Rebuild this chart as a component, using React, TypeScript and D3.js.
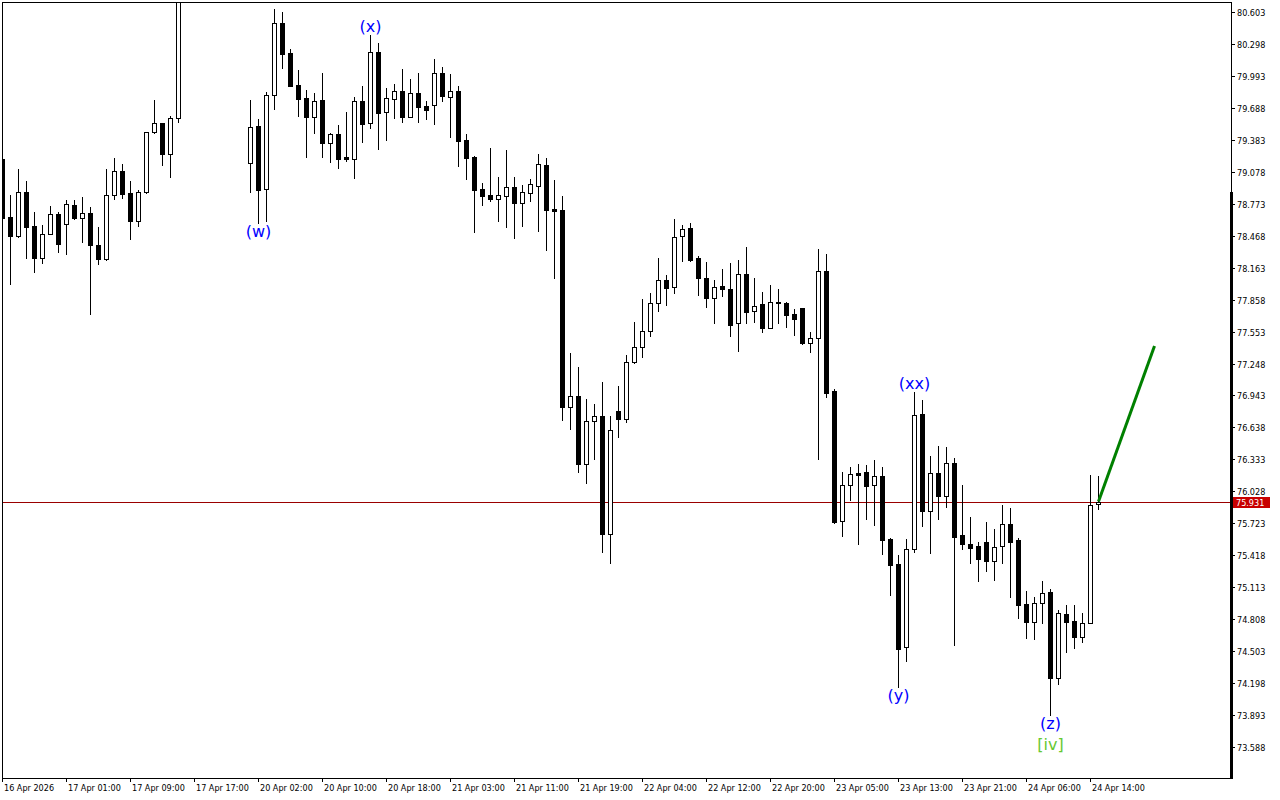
import * as d3 from 'd3';

// H1 candles, 16 Apr 17:00 .. 24 Apr 15:00 (bars 23-30 run above the visible range)
const opens = [
  79.200, 78.647, 78.465, 78.885, 78.560, 78.255, 78.484, 78.675, 78.580, 78.761,
  78.637, 78.684, 78.379, 78.245, 78.856, 79.085, 78.875, 78.608, 78.885, 79.458,
  79.543, 79.248, 79.592, 80.920, 81.200, 81.400, 81.300, 81.100, 81.250, 81.450,
  81.350, 79.161, 79.515, 78.913, 79.811, 80.498, 80.211, 79.906, 79.782, 79.601,
  79.763, 79.353, 79.439, 79.219, 79.200, 79.754, 79.543, 80.221, 79.649, 79.773,
  79.849, 79.601, 79.830, 79.706, 79.715, 80.021, 79.792, 79.849, 79.381, 79.219,
  78.913, 78.856, 78.818, 78.847, 78.933, 78.780, 78.875, 78.942, 79.142, 78.723,
  78.713, 76.833, 76.938, 76.289, 76.699, 76.747, 75.621, 76.795, 76.719, 77.263,
  77.406, 77.558, 77.825, 78.045, 77.978, 78.465, 78.541, 78.255, 78.064, 77.873,
  77.988, 77.959, 77.635, 78.102, 77.749, 77.816, 77.587, 77.835, 77.825, 77.721,
  77.778, 77.444, 77.492, 78.131, 76.986, 75.745, 76.089, 76.203, 76.213, 76.089,
  76.175, 75.573, 75.334, 74.543, 75.478, 76.766, 75.840, 76.203, 75.984, 76.299,
  75.611, 75.526, 75.507, 75.545, 75.363, 75.507, 75.717, 75.564, 74.953, 74.781,
  74.962, 75.068, 74.247, 74.857, 74.791, 74.638, 74.772, 75.907,
];
const highs = [
  79.267, 78.856, 79.105, 78.989, 78.694, 78.570, 78.751, 78.694, 78.809, 78.809,
  78.838, 78.742, 78.551, 79.105, 79.209, 79.152, 78.989, 78.904, 79.458, 79.763,
  79.545, 79.611, 81.050, 81.300, 81.550, 81.700, 81.450, 81.350, 81.600, 81.650,
  81.500, 79.763, 79.582, 79.840, 80.632, 80.603, 80.250, 80.049, 79.859, 79.830,
  80.021, 79.448, 79.525, 79.649, 79.792, 79.897, 80.383, 80.307, 79.878, 79.916,
  80.059, 79.963, 80.021, 79.754, 80.154, 80.078, 80.011, 79.897, 79.439, 79.228,
  78.971, 79.305, 79.028, 79.286, 79.028, 78.952, 79.009, 79.248, 79.209, 78.999,
  78.847, 77.348, 77.215, 76.909, 76.862, 77.072, 76.747, 77.034, 77.329, 77.644,
  77.864, 77.921, 78.255, 78.093, 78.627, 78.570, 78.589, 78.274, 78.217, 78.045,
  78.150, 78.207, 78.236, 78.360, 78.064, 77.931, 77.997, 77.959, 77.835, 77.768,
  77.780, 77.549, 78.341, 78.293, 77.005, 76.213, 76.260, 76.289, 76.280, 76.327,
  76.260, 75.583, 75.421, 75.573, 76.976, 76.900, 76.365, 76.461, 76.451, 76.346,
  76.089, 75.783, 75.545, 75.736, 75.669, 75.898, 75.869, 75.583, 75.077, 75.020,
  75.172, 75.096, 74.896, 74.943, 74.943, 74.867, 76.184, 76.175,
];
const lows = [
  78.570, 78.007, 78.455, 78.255, 78.122, 78.207, 78.480, 78.312, 78.293, 78.627,
  78.408, 77.721, 78.198, 78.240, 78.818, 78.828, 78.436, 78.560, 78.880, 79.448,
  79.142, 79.028, 79.553, 80.850, 81.050, 81.150, 80.950, 80.900, 81.100, 81.200,
  81.050, 78.885, 78.589, 78.608, 79.678, 80.068, 79.895, 79.611, 79.219, 79.448,
  79.219, 79.171, 79.114, 79.181, 79.019, 79.362, 79.496, 79.295, 79.381, 79.592,
  79.553, 79.598, 79.553, 79.582, 79.534, 79.754, 79.410, 79.133, 79.009, 78.503,
  78.761, 78.799, 78.608, 78.551, 78.446, 78.560, 78.799, 78.513, 78.331, 78.064,
  76.709, 76.623, 76.213, 76.108, 76.337, 75.449, 75.344, 76.547, 76.690, 77.253,
  77.310, 77.511, 77.749, 77.806, 77.921, 78.226, 78.226, 77.902, 77.787, 77.635,
  77.892, 77.511, 77.368, 77.635, 77.644, 77.549, 77.585, 77.635, 77.597, 77.520,
  77.434, 77.358, 76.337, 76.928, 75.726, 75.602, 75.946, 75.526, 75.764, 75.707,
  75.430, 75.039, 74.161, 74.409, 75.449, 75.697, 75.440, 75.764, 75.879, 74.562,
  75.478, 75.344, 75.172, 75.268, 75.182, 75.344, 75.020, 74.819, 74.629, 74.619,
  74.772, 73.893, 74.189, 74.495, 74.533, 74.590, 74.770, 75.859,
];
const closes = [
  78.637, 78.465, 78.885, 78.551, 78.255, 78.484, 78.675, 78.389, 78.771, 78.637,
  78.684, 78.379, 78.245, 78.856, 79.085, 78.866, 78.608, 78.885, 79.458, 79.543,
  79.248, 79.592, 80.920, 81.200, 81.400, 81.300, 81.100, 81.250, 81.450, 81.350,
  81.200, 79.506, 78.904, 79.811, 80.498, 80.202, 79.897, 79.773, 79.601, 79.754,
  79.353, 79.439, 79.200, 79.200, 79.754, 79.534, 80.221, 79.639, 79.782, 79.849,
  79.601, 79.830, 79.696, 79.668, 80.021, 79.801, 79.849, 79.372, 79.209, 78.904,
  78.847, 78.818, 78.856, 78.933, 78.780, 78.885, 78.961, 79.152, 78.713, 78.704,
  76.833, 76.938, 76.289, 76.699, 76.747, 75.621, 76.614, 76.719, 77.263, 77.406,
  77.558, 77.825, 78.045, 77.969, 78.455, 78.532, 78.236, 78.064, 77.873, 77.978,
  77.959, 77.616, 78.102, 77.740, 77.797, 77.587, 77.835, 77.825, 77.711, 77.673,
  77.444, 77.492, 78.131, 76.967, 75.736, 76.089, 76.194, 76.184, 76.079, 76.175,
  75.564, 75.325, 74.523, 75.478, 76.757, 75.840, 76.203, 75.984, 76.299, 75.592,
  75.526, 75.487, 75.382, 75.363, 75.497, 75.717, 75.545, 74.943, 74.781, 74.962,
  75.058, 74.247, 74.867, 74.781, 74.638, 74.772, 75.898, 75.931,
];

const priceTicks = [
  80.603, 80.298, 79.993, 79.688, 79.383, 79.078, 78.773, 78.468, 78.163, 77.858, 77.553, 77.248,
  76.943, 76.638, 76.333, 76.028, 75.723, 75.418, 75.113, 74.808, 74.503, 74.198, 73.893, 73.588,
];

const timeLabels = [
  '16 Apr 2026', '17 Apr 01:00', '17 Apr 09:00', '17 Apr 17:00', '20 Apr 02:00', '20 Apr 10:00',
  '20 Apr 18:00', '21 Apr 03:00', '21 Apr 11:00', '21 Apr 19:00', '22 Apr 04:00', '22 Apr 12:00',
  '22 Apr 20:00', '23 Apr 05:00', '23 Apr 13:00', '23 Apr 21:00', '24 Apr 06:00', '24 Apr 14:00',
];
const timeLabelBars = [0, 8, 16, 24, 32, 40, 48, 56, 64, 72, 80, 88, 96, 104, 112, 120, 128, 136];

const lastPrice = 75.931;

// wave marks
const waveTexts = ['(w)', '(x)', '(xx)', '(y)', '(z)', '[iv]'];
const waveBars = [32, 46, 114, 112, 131, 131];
const waveSides = ['below', 'above', 'above', 'below', 'below', 'below2'];
const waveColors = ['#0000ff', '#0000ff', '#0000ff', '#0000ff', '#0000ff', '#66c832'];

// projected move
const projBars = [137, 144];
const projPrices = [75.931, 77.415];

const W = 1280;
const H = 800;
const left = 2;
const top = 2;
const right = 1231;
const bottom = 778;

export default function App() {
  const x = d3.scaleLinear().domain([0, 137]).range([2.5, 1098.5]);
  const y = d3.scaleLinear().domain([73.588, 80.603]).range([747, 12]);

  const axisFont = "'DejaVu Sans Condensed', 'DejaVu Sans', sans-serif";

  const candles = opens.map((o, i) => {
    const c = closes[i];
    const cx = x(i);
    const yTop = Math.round(y(Math.max(o, c)));
    const yBot = Math.round(y(Math.min(o, c)));
    const yHi = Math.round(y(highs[i]));
    const yLo = Math.round(y(lows[i]));
    const bear = c < o;
    return (
      <g key={i}>
        <line x1={cx} x2={cx} y1={yHi} y2={yLo + 1} stroke="#000" strokeWidth={1} />
        <rect
          x={cx - 2}
          y={yTop + 0.5}
          width={4}
          height={Math.max(yBot - yTop, 0)}
          fill={bear ? '#000' : '#fff'}
          stroke="#000"
          strokeWidth={1}
        />
      </g>
    );
  });

  const line = d3
    .line<number>()
    .x((_, i) => x(projBars[i]))
    .y((d) => y(d));

  const lastY = Math.round(y(lastPrice)) + 0.5;

  return (
    <div style={{ position: 'absolute', left: 0, top: 0, width: W, height: H, background: '#fff' }}>
      <svg width={W} height={H} style={{ display: 'block' }} shapeRendering="crispEdges">
        <defs>
          <clipPath id="plot">
            <rect x={left + 1} y={top + 1} width={right - left - 1} height={bottom - top - 1} />
          </clipPath>
        </defs>
        <rect x={0} y={0} width={W} height={H} fill="#fff" />

        <g clipPath="url(#plot)">
          <line x1={left} x2={right} y1={lastY} y2={lastY} stroke="#9a0000" strokeWidth={1} />
          {candles}
          <path
            d={line(projPrices) ?? ''}
            fill="none"
            stroke="#008000"
            strokeWidth={3}
            shapeRendering="auto"
          />
          {waveTexts.map((t, k) => {
            const i = waveBars[k];
            const side = waveSides[k];
            let ty = 0;
            if (side === 'above') ty = y(highs[i]) - 3;
            else if (side === 'below') ty = y(lows[i]) + 14;
            else ty = y(lows[i]) + 35;
            return (
              <text
                key={t}
                x={x(i)}
                y={ty}
                textAnchor="middle"
                fontFamily="'DejaVu Sans', sans-serif"
                fontSize={16}
                fill={waveColors[k]}
                shapeRendering="auto"
              >
                {t}
              </text>
            );
          })}
        </g>

        {/* frame */}
        <rect
          x={left + 0.5}
          y={top + 0.5}
          width={right - left}
          height={bottom - top}
          fill="none"
          stroke="#000"
          strokeWidth={1}
        />
        <rect x={right - 1} y={192} width={3} height={bottom - 192 + 1} fill="#000" />

        {/* price axis */}
        {priceTicks.map((p) => {
          const ty = Math.round(y(p)) + 0.5;
          return (
            <g key={p}>
              <line x1={right} x2={right + 4} y1={ty} y2={ty} stroke="#000" />
              <text x={right + 6} y={ty + 3.5} fontFamily={axisFont} fontSize={9} fill="#000">
                {p.toFixed(3)}
              </text>
            </g>
          );
        })}
        <rect x={right + 2} y={lastY - 5.5} width={37} height={11} fill="#c80000" />
        <text x={right + 5} y={lastY + 3.5} fontFamily={axisFont} fontSize={9} fill="#fff">
          {lastPrice.toFixed(3)}
        </text>

        {/* time axis */}
        {timeLabels.map((t, k) => {
          const tx = Math.round(x(timeLabelBars[k]) - 0.5) + 0.5;
          return (
            <g key={t}>
              <line x1={tx} x2={tx} y1={bottom} y2={bottom + 4} stroke="#000" />
              <text x={tx + 1.5} y={bottom + 13} fontFamily={axisFont} fontSize={9} fill="#000">
                {t}
              </text>
            </g>
          );
        })}
      </svg>
    </div>
  );
}
